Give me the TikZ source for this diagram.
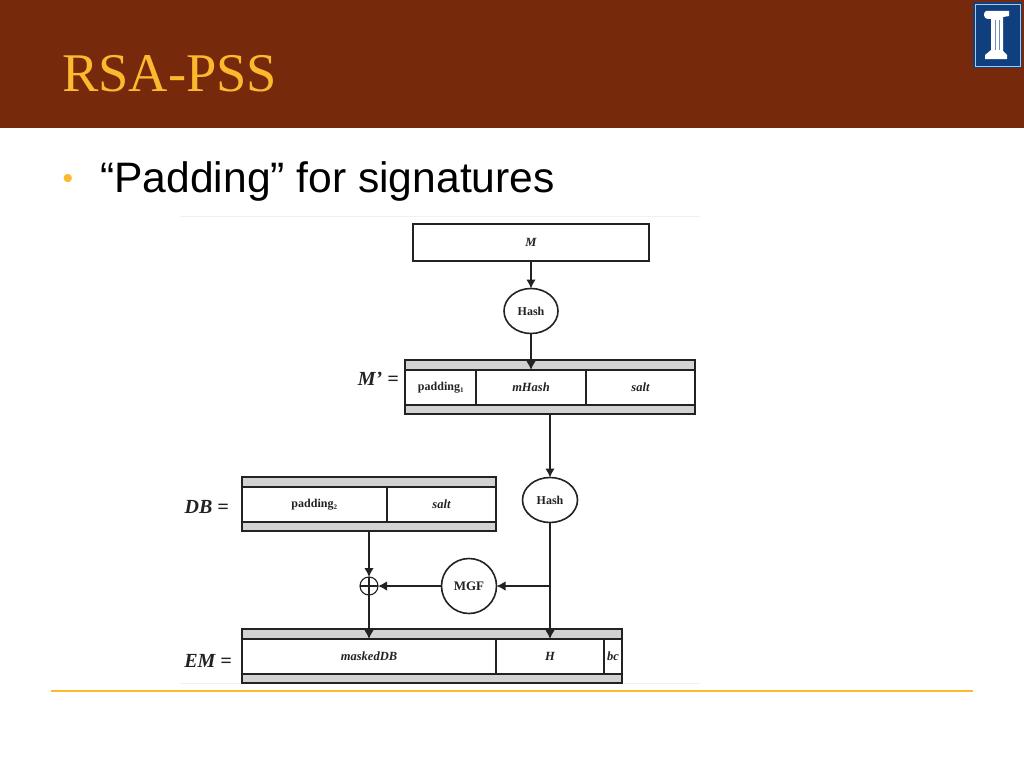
\documentclass[tikz,border=0pt]{standalone}
\usepackage{fontspec}
\setmainfont{Liberation Serif}
\newfontfamily\bodyfont{Liberation Sans}
\usetikzlibrary{arrows.meta,calc,shapes.geometric}
\definecolor{hdr}{HTML}{77290C}
\definecolor{gold}{HTML}{FDB92E}
\definecolor{ink}{HTML}{222222}
\definecolor{barfill}{HTML}{D2D2D2}
\definecolor{logoblue}{HTML}{0F3F7E}
\newcommand{\dn}[1]{\raisebox{-1pt}{#1}}
\tikzset{
  x=1pt,y=-1pt,
  conn/.style={draw=ink,line width=1.4pt,-{Latex[length=9pt,width=9.5pt]}},
  plain/.style={draw=ink,line width=1.4pt},
  bar/.style={draw=ink,line width=1.6pt,fill=barfill,inner sep=0pt,outer sep=0pt},
  cell/.style={draw=ink,line width=1.6pt,fill=white,inner sep=0pt,outer sep=0pt,font=\fontsize{12}{14}\selectfont\bfseries,text=ink},
  ital/.style={font=\fontsize{12.5}{14}\selectfont\bfseries\itshape},
  proc/.style={ellipse,draw=ink,line width=1.6pt,fill=white,inner sep=0pt,outer sep=0pt,font=\fontsize{12}{14}\selectfont\bfseries,text=ink},
  lab/.style={anchor=east,font=\fontsize{20}{22}\selectfont\bfseries\itshape,text=ink,inner sep=0pt},
}
\begin{document}
\begin{tikzpicture}
\useasboundingbox (0,0) rectangle (1024,768);
\fill[white] (0,0) rectangle (1024,768);
\fill[hdr] (0,0) rectangle (1024,128);
\node[anchor=west,inner sep=0pt,text=gold,font=\fontsize{54.5}{58}\selectfont] (title) at (62,73.5) {RSA-PSS};
% logo
\fill[logoblue] (973,2) rectangle (1022,68);
\draw[white!70!logoblue,line width=0.8pt] (975,4) rectangle (1020,66);
\fill[white] (986,11) -- (1009,11) -- (1009,16) -- (1003,17) -- (1003,51) -- (1007,55) -- (1007,59) -- (985,59) -- (985,55) -- (991,50) -- (991,19) -- (988,19) .. controls (983,19) and (983,12) .. (986,11) -- cycle;
\draw[logoblue!60!white,line width=0.9pt] (995,20) -- (995,50) (999,20) -- (999,50);
% bullet
\node[text=gold,inner sep=0pt,font=\bodyfont\fontsize{30}{32}\selectfont] (bul) at (68,181) {•};
\node[anchor=west,inner sep=0pt,text=black,font=\bodyfont\fontsize{42.6}{46}\selectfont] (head) at (100,181) {“Padding” for signatures};
% faint image edges
\draw[black!6,line width=0.7pt] (180,216) -- (700,216) (180,683) -- (700,683);
% rule
\draw[gold,line width=2.4pt] (51,691) -- (973,691);
% M
\node[cell,minimum width=236pt,minimum height=37pt,ital] (m) at (531,242.5) {M};
\node[proc,minimum width=54pt,minimum height=45pt] (h1) at (531,311) {\dn{Hash}};
% M'
\node[bar,minimum width=290pt,minimum height=54pt] (mp) at (550,387) {};
\node[cell,minimum width=72pt,minimum height=35pt] (mp1) at (441,387.5) {\dn{padding\textsubscript{\fontsize{7}{8}\selectfont 1}}};
\node[cell,minimum width=110pt,minimum height=35pt,ital] (mp2) at (531,387.5) {mHash};
\node[cell,minimum width=109pt,minimum height=35pt,ital] (mp3) at (640.5,387.5) {salt};
\node[lab] (lmp) at (399,379) {M’ =};
% Hash 2
\node[proc,minimum width=55pt,minimum height=45pt] (h2) at (550,500) {\dn{Hash}};
% DB
\node[bar,minimum width=254pt,minimum height=54pt] (db) at (369,504) {};
\node[cell,minimum width=145pt,minimum height=35pt] (db1) at (314.5,504.5) {\dn{padding\textsubscript{\fontsize{7}{8}\selectfont 2}}};
\node[cell,minimum width=109pt,minimum height=35pt,ital] (db2) at (441.5,504.5) {salt};
\node[lab] (ldb) at (229,507) {DB =};
% xor
\node[circle,draw=ink,line width=1.1pt,fill=white,minimum size=18pt,inner sep=0pt,outer sep=0pt] (xor) at (369,586) {};
\draw[ink,line width=1.1pt] (xor.north) -- (xor.south) (xor.west) -- (xor.east);
\node[proc,circle,minimum size=55pt,font=\fontsize{13}{15}\selectfont\bfseries] (mgf) at (469,586) {MGF};
\coordinate (tee) at (550,586);
% EM
\node[bar,minimum width=380pt,minimum height=54pt] (em) at (432,656) {};
\node[cell,minimum width=254pt,minimum height=35pt,ital] (em1) at (369,656.5) {maskedDB};
\node[cell,minimum width=108pt,minimum height=35pt,ital] (em2) at (550,656.5) {H};
\node[cell,minimum width=18pt,minimum height=35pt,ital] (em3) at (613,656.5) {bc};
\node[lab] (lem) at (232,661) {EM =};
% connectors
\draw[conn] (m.south) -- (h1.north);
\draw[conn] (h1.south) -- (mp2.north);
\draw[conn] (mp.south) -- (h2.north);
\draw[conn] (h2.south) -- (em2.north);
\draw[plain] (h2.south) -- (tee);
\draw[conn] (tee) -- (mgf.east);
\draw[conn] (mgf.west) -- (xor.east);
\draw[conn] (db.south) -- (xor.north);
\draw[conn] (xor.south) -- (em1.north);
\end{tikzpicture}
\end{document}
